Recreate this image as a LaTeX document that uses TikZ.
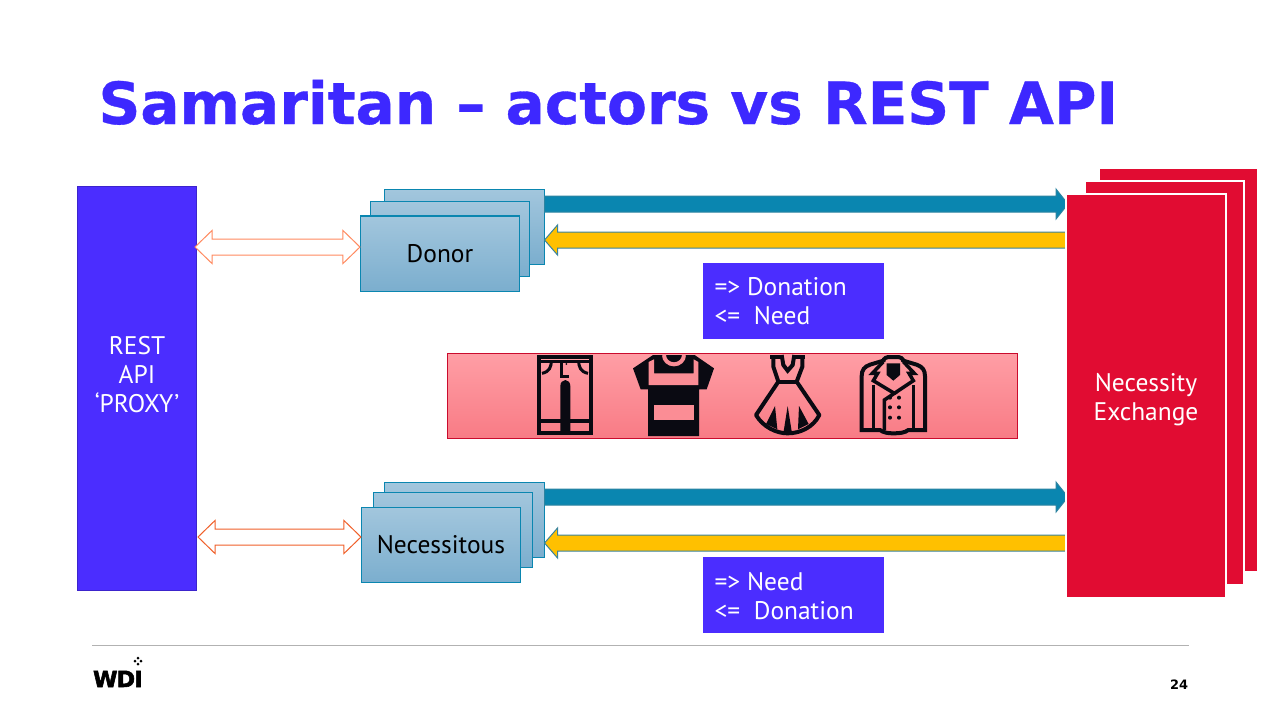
\documentclass[tikz,border=0pt]{standalone}
\usepackage{fontspec}
\setmainfont{PT Sans}
\newfontfamily\headfont[BoldFeatures={FakeBold=0.6}]{DejaVu Sans}
\newfontfamily\logofont[BoldFeatures={FakeBold=2.5,LetterSpace=-4}]{DejaVu Sans}
\newfontfamily\pagefont{DejaVu Sans}
\usetikzlibrary{calc}

\newcommand{\px}{0.125mm}

\definecolor{actorblue}{HTML}{4B2DFF}
\definecolor{titleblue}{HTML}{3D28FF}
\definecolor{exchred}{HTML}{E10C32}
\definecolor{teal}{HTML}{0A86B0}
\definecolor{amber}{HTML}{FFC000}
\definecolor{inkdark}{HTML}{0A0A12}
\definecolor{tagcoral}{HTML}{FF8A60}
\definecolor{tagorange}{HTML}{F0602A}
\definecolor{actorgradtop}{HTML}{A2C6DD}
\definecolor{actorgradbot}{HTML}{7BAECE}
\definecolor{bandtop}{HTML}{FF9EA5}
\definecolor{bandbot}{HTML}{F87B85}
\definecolor{bandcut}{HTML}{FB8D95}

\tikzset{
  bodytext/.style={font=\fontsize{9.05}{10.3}\selectfont},
  apibox/.style={rectangle, inner sep=0pt, fill=actorblue, draw=actorblue!80!black, line width=1*\px},
  actorbox/.style={rectangle, inner sep=0pt, minimum width=159*\px, minimum height=75*\px, top color=actorgradtop, bottom color=actorgradbot, draw=teal, line width=1*\px, text=black, bodytext},
  exchbox/.style={rectangle, inner sep=0pt, minimum width=159*\px, minimum height=403*\px, fill=exchred, draw=white, line width=2*\px},
  tagbox/.style={rectangle, inner sep=0pt, minimum width=181*\px, minimum height=76*\px, fill=actorblue},
  tagtext/.style={inner sep=0pt, anchor=base west, text=white, bodytext},
  boxtext/.style={inner sep=0pt, text=white, align=center, bodytext},
  hollowarrow/.style={fill=white, draw=#1, line width=1*\px, line join=miter},
  bluearrow/.style={fill=teal, draw=teal!70!gray, line width=1*\px},
  yellowarrow/.style={fill=amber, draw=teal!60!gray, line width=1*\px},
  iconline/.style={draw=inkdark, line width=4*\px, line join=miter}
}

% block arrow with two heads: tip, tip
\newcommand{\bothblock}[3]{
  \draw[#1] (#2) -- ++(17,-16.5) -- ++(0,8.5) -- ($(#3)+(-17,-8)$) -- ++(0,-8.5) -- (#3)
    -- ++(-17,16.5) -- ++(0,-8.5) -- ($(#2)+(17,8)$) -- ++(0,8.5) -- cycle;
}
% block arrow with one head: tail, tip, sign of direction, head length
\newcommand{\oneblock}[5]{
  \draw[#1] ($(#2)+(0,-8)$) -- ($(#3)+(-#4*#5,-8)$) -- ++(0,-7) -- (#3) -- ($(#3)+(-#4*#5,15)$)
    -- ++(0,-7) -- ($(#2)+(0,8)$) -- cycle;
}

\begin{document}
\begin{tikzpicture}[x=0.0125cm, y=-0.0125cm]
  \useasboundingbox (0,0) rectangle (1280,720);
  \fill[white] (0,0) rectangle (1280,720);

  % Title
  \node[anchor=base west, inner sep=0pt, text=titleblue, font=\headfont\bfseries\fontsize{20.65}{24}\selectfont] (title) at (98,124) {Samaritan – actors vs REST API};

  % Proxy
  \node[apibox, minimum width=119*\px, minimum height=404*\px] (proxy) at (137,388.5) {};
  \node[boxtext] (proxyText) at (137,375) {REST\\API\\‘PROXY’};

  % Actor stacks
  \node[actorbox] (donorBack) at (464.5,227) {};
  \node[actorbox] (donorMid) at (450,239) {};
  \node[actorbox] (donor) at (440,253.5) {Donor};
  \node[actorbox] (needyBack) at (464.5,520) {};
  \node[actorbox] (needyMid) at (453,530) {};
  \node[actorbox] (needy) at (441,545) {Necessitous};

  % Message arrows
  \coordinate (donorOut) at (donorBack.east |- 0,204);
  \coordinate (exchOutA) at (1068,204);
  \coordinate (exchInA) at (1066,240);
  \coordinate (donorIn) at (donorBack.east |- 0,240);
  \coordinate (needyOut) at (needyBack.east |- 0,497);
  \coordinate (exchOutB) at (1068,497);
  \coordinate (exchInB) at (1066,543);
  \coordinate (needyIn) at (needyBack.east |- 0,543);
  \oneblock{bluearrow}{donorOut}{exchOutA}{1}{12}
  \oneblock{yellowarrow}{exchInA}{donorIn}{-1}{13}
  \oneblock{bluearrow}{needyOut}{exchOutB}{1}{12}
  \oneblock{yellowarrow}{exchInB}{needyIn}{-1}{13}

  % Exchange stack
  \node[exchbox] (exchBack) at (1178.5,370) {};
  \node[exchbox] (exchMid) at (1164.5,383) {};
  \node[exchbox] (exch) at (1146,396) {};
  \node[boxtext] (exchText) at (1146,400) {Necessity\\Exchange};

  % Proxy links
  \coordinate (proxyA) at (195,247);
  \coordinate (actorA) at (donor.west |- proxyA);
  \coordinate (proxyB) at (198,537);
  \coordinate (actorB) at (needy.west |- proxyB);
  \bothblock{hollowarrow=tagcoral}{proxyA}{actorA}
  \bothblock{hollowarrow=tagorange}{proxyB}{actorB}

  % Message tags
  \node[tagbox] (tagDonor) at (793.5,301) {};
  \node[tagtext] (tagDonorA) at (714,295) {=> Donation};
  \node[tagtext] (tagDonorB) at (714,324) {<=\ \ Need};
  \node[tagbox] (tagNeedy) at (793.5,595) {};
  \node[tagtext] (tagNeedyA) at (714,590) {=> Need};
  \node[tagtext] (tagNeedyB) at (714,619) {<=\ \ Donation};

  % Clothes band
  \node[rectangle, inner sep=0pt, minimum width=570*\px, minimum height=85*\px, top color=bandtop, bottom color=bandbot, draw=exchred!90!black, line width=1*\px] (band) at (732.5,396) {};

  % Trousers
  \begin{scope}[shift={(530,350)}, x=0.0125cm/3, y=-0.0125cm/3]
    \draw[iconline] (27,21) rectangle (183,249);
    \draw[iconline, line width=3*\px] (27,33) -- (183,33);
    \draw[iconline, line width=3*\px] (36,70) .. controls (58,66) and (64,50) .. (64,33);
    \draw[iconline, line width=3*\px] (174,70) .. controls (152,66) and (146,50) .. (146,33);
    \draw[iconline, line width=3*\px] (94,33) -- (94,78) -- (118,78);
    \fill[inkdark] (109,42) circle (3);
    \draw[iconline] (27,214) -- (183,214);
    \fill[inkdark] (91,252) -- (91,108) arc[start angle=180, end angle=360, x radius=15, y radius=18] -- (121,252) -- cycle;
  \end{scope}

  % Shirt
  \begin{scope}[shift={(628,350)}, x=0.0125cm/3, y=-0.0125cm/3]
    \fill[inkdark] (75,15) -- (200,15) -- (258,55) -- (236,118) -- (213,118) -- (213,258) -- (60,258) -- (60,118) -- (38,118) -- (15,55) -- cycle;
    \fill[bandcut] (62,36) -- (78,28) -- (78,70) -- (197,70) -- (197,28) -- (211,36) -- (211,105) -- (62,105) -- cycle;
    \draw[bandcut, line width=4*\px] (108,15) arc[start angle=180, end angle=0, x radius=30, y radius=28];
    \fill[bandcut] (78,165) rectangle (197,210);
  \end{scope}

  % Dress
  \begin{scope}[shift={(750,350)}, x=0.0125cm/3, y=-0.0125cm/3]
    \draw[iconline] (70,15) -- (70,50) -- (85,95);
    \draw[iconline] (157,15) -- (157,50) -- (140,95);
    \draw[iconline] (95,15) -- (100,45) -- (113,62) -- (128,45) -- (133,15);
    \draw[iconline] (60,21) -- (95,21);
    \draw[iconline] (133,21) -- (165,21);
    \draw[iconline] (80,95) -- (145,95);
    \draw[iconline, line join=round] (85,95) -- (18,195) .. controls (40,232) and (80,250) .. (113,250) .. controls (150,250) and (190,232) .. (208,195) -- (140,95);
    \fill[inkdark] (75,168) -- (82,238) -- (48,222) -- cycle;
    \fill[inkdark] (113,168) -- (126,250) -- (100,250) -- cycle;
    \fill[inkdark] (147,168) -- (176,222) -- (144,238) -- cycle;
  \end{scope}

  % Coat
  \begin{scope}[shift={(855,350)}, x=0.0125cm/3, y=-0.0125cm/3]
    \draw[iconline] (85,35) .. controls (85,24) and (95,21) .. (105,21) -- (125,21) .. controls (135,21) and (145,24) .. (145,35);
    \draw[iconline] (85,32) -- (45,44) .. controls (28,50) and (20,60) .. (20,78) -- (20,240) -- (75,240) .. controls (85,248) and (100,250) .. (115,250) .. controls (135,250) and (150,248) .. (160,240) -- (210,240) -- (210,78) .. controls (210,60) and (202,50) .. (185,44) -- (145,32);
    \draw[iconline, line width=3.5*\px] (85,35) -- (52,70) -- (68,70) -- (55,92) -- (118,130) -- (88,150) -- (88,240);
    \draw[iconline, line width=3.5*\px] (145,35) -- (178,70) -- (162,70) -- (175,92) -- (118,130);
    \draw[iconline, line width=3*\px] (55,105) -- (55,240);
    \draw[iconline, line width=3*\px] (175,105) -- (175,240);
    \fill[inkdark] (95,40) -- (135,40) -- (135,75) -- (115,92) -- (95,75) -- cycle;
    \foreach \y in {143,172,203} {
      \fill[inkdark] (105,\y) circle (6);
      \fill[inkdark] (132,\y) circle (6);
    }
  \end{scope}

  % Footer
  \coordinate (ruleL) at (92,645);
  \coordinate (ruleR) at (1189,645);
  \draw[gray!60, line width=1*\px] (ruleL) -- (ruleR);
  \node[anchor=base west, inner sep=0pt, text=black, font=\logofont\bfseries\fontsize{7.9}{10}\selectfont] (logo) at (92.5,687) {WDI};
  \foreach \dx/\dy in {-3/0, 3/0, 0/-3, 0/3} {
    \fill[black] (138+\dx,661+\dy) circle (1.5);
  }
  \node[anchor=base, inner sep=0pt, text=black, font=\pagefont\bfseries\fontsize{4.6}{6}\selectfont] (pagenum) at (1179,689) {24};
\end{tikzpicture}
\end{document}
